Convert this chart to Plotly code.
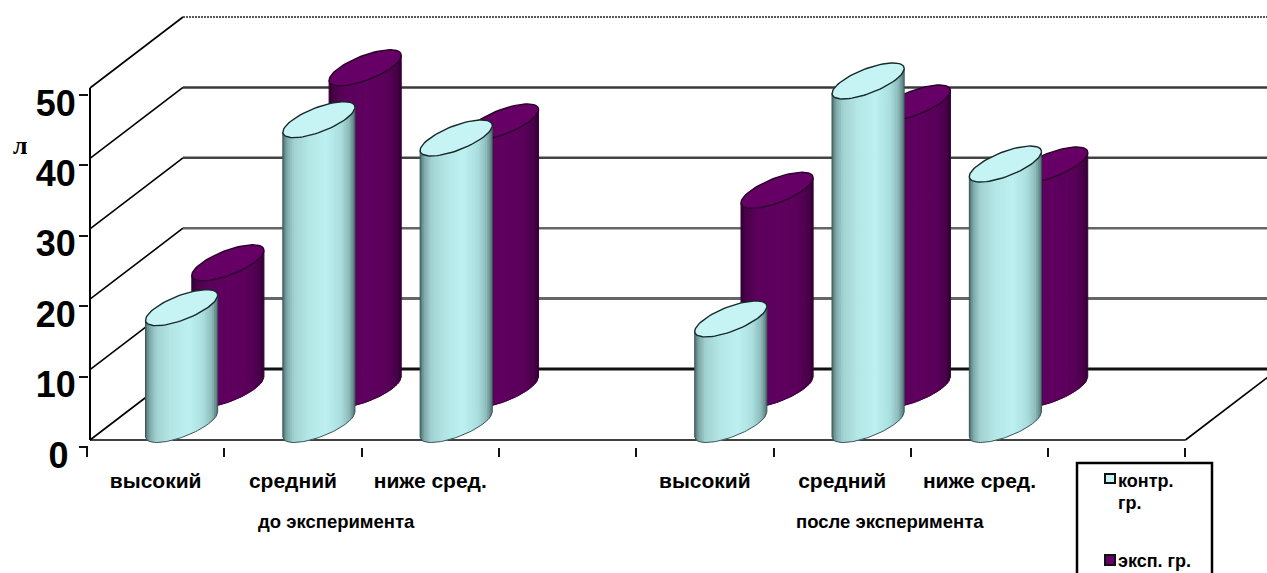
import numpy as np
import plotly.graph_objects as go

# ---------- data ----------
categories = ["высокий", "средний", "ниже сред.", "", "высокий", "средний", "ниже сред.", ""]
control_values = [16.6, 43.3, 40.7, None, 15.0, 48.8, 37.0, None]
experiment_values = [18.0, 45.7, 38.0, None, 28.3, 40.7, 31.9, None]
value_ticks = [0, 10, 20, 30, 40, 50]
value_tick_text = ["0\u2009", "10", "20", "30", "40", "50"]
group_labels = ["до эксперимента", "после эксперимента"]
series_names = ["контр.<br>гр.", "эксп. гр."]

# ---------- canvas geometry ----------
W, H = 1267, 573
X0_PX, Y0_PX = 87.0, 440.0
SLOT_PX, UNIT_PX = 137.3, 7.04
WALL_DX, WALL_DY = 93.0 / SLOT_PX, 71.0 / UNIT_PX
AXIS_X = 3.0 / SLOT_PX


def px_x(p):
    return (p - X0_PX) / SLOT_PX


xrange_main = [px_x(0), px_x(W)]
yrange_main = [(Y0_PX - H) / UNIT_PX, Y0_PX / UNIT_PX]
TICK_DROP = 7.0 / UNIT_PX

# cylinder section: x = R cos s, y = C sin(s + phi)
A_PX, B_PX, C_PX = 26.0, 25.0, 18.0
R_PX = float(np.hypot(A_PX, B_PX))
PHI = float(np.arctan2(B_PX, A_PX))
RX = R_PX / SLOT_PX
CY = C_PX / UNIT_PX

FRONT = dict(dx=0.689, dy=2.2)
BACK = dict(dx=1.026, dy=7.17)

STRIPS = 40
control_stops = [(0, "#4a6b6b"), (.05, "#7ba5a5"), (.15, "#a2d2d2"), (.35, "#b4e6e6"), (.6, "#bdf0f0"),
                 (.8, "#abdfdf"), (.92, "#8dbaba"), (1, "#527575")]
experiment_stops = [(0, "#2c002c"), (.05, "#470047"), (.2, "#5b005b"), (.5, "#600060"), (.8, "#5a005a"),
                    (.95, "#470047"), (1, "#2c002c")]


def rgb(h):
    return np.array([int(h[i:i + 2], 16) for i in (1, 3, 5)], float)


def ramp(stops, f):
    xs = [s[0] for s in stops]
    cols = np.array([rgb(s[1]) for s in stops])
    v = [np.interp(f, xs, cols[:, i]) for i in range(3)]
    return "rgb(%d,%d,%d)" % tuple(round(c) for c in v)


def lower_arc(u):
    """u in [-1,1] across the width: vertical offset of the near edge of the section."""
    s = 2 * np.pi - np.arccos(np.clip(u, -1, 1))
    return CY * np.sin(s + PHI)


def ellipse(n=72):
    s = np.linspace(0, 2 * np.pi, n)
    return RX * np.cos(s), CY * np.sin(s + PHI)


fig = go.Figure()

# vertical axis line of the left wall, drawn first so every cylinder stays above it
fig.add_trace(go.Scatter(x=[AXIS_X, AXIS_X], y=[value_ticks[0], value_ticks[-1]], mode="lines",
                         line=dict(color="#000000", width=2), hoverinfo="skip", showlegend=False,
                         cliponaxis=False))


def add_series(values, geo, stops, top_fill, top_line, edge, edge_w, name):
    idx = [i for i, v in enumerate(values) if v is not None]
    edges = np.linspace(-1, 1, STRIPS + 1)
    overlap = 0.8 / R_PX
    for k in range(STRIPS):
        u0, u1 = edges[k], min(edges[k + 1] + overlap, 1)
        uu = np.linspace(u0, u1, 3)
        xs, ys = [], []
        for i in idx:
            cx, base, top = i + geo["dx"], geo["dy"], geo["dy"] + values[i]
            px = list(cx + RX * uu)
            xs += px + px[::-1] + [None]
            ys += list(top + lower_arc(uu)) + list(base + lower_arc(uu[::-1])) + [None]
        fig.add_trace(go.Scatter(x=xs, y=ys, mode="lines", fill="toself", line=dict(width=0),
                                 fillcolor=ramp(stops, (k + .5) / STRIPS), hoverinfo="skip",
                                 showlegend=False))
    # silhouette of each cylinder
    uu = np.linspace(-1, 1, 40)
    xs, ys = [], []
    for i in idx:
        cx, base, top = i + geo["dx"], geo["dy"], geo["dy"] + values[i]
        xs += list(cx + RX * uu) + [None]
        ys += list(base + lower_arc(uu)) + [None]
        xs += [cx - RX, cx - RX, None, cx + RX, cx + RX, None]
        ys += [base + lower_arc(-1.0), top + lower_arc(-1.0), None,
               base + lower_arc(1.0), top + lower_arc(1.0), None]
    fig.add_trace(go.Scatter(x=xs, y=ys, mode="lines", line=dict(color=edge, width=edge_w),
                             hoverinfo="skip", showlegend=False))
    # top faces
    ex, ey = ellipse()
    xs, ys = [], []
    for i in idx:
        xs += list(i + geo["dx"] + ex) + [None]
        ys += list(geo["dy"] + values[i] + ey) + [None]
    fig.add_trace(go.Scatter(x=xs, y=ys, mode="lines", fill="toself", fillcolor=top_fill,
                             line=dict(color=top_line, width=1.4), name=name.replace("<br>", " "),
                             hoverinfo="skip", showlegend=False))


add_series(experiment_values, BACK, experiment_stops, "#660066", "#2a002a", "#3a003a", 1, series_names[1])
add_series(control_values, FRONT, control_stops, "#c6f4f4", "#16282a", "#3b5555", 1, series_names[0])

# dummy traces that bring the shifted tick axes into existence
fig.add_trace(go.Scatter(x=[None], y=[None], xaxis="x", yaxis="y2", showlegend=False, hoverinfo="skip"))
fig.add_trace(go.Scatter(x=[None], y=[None], xaxis="x2", yaxis="y", showlegend=False, hoverinfo="skip"))

# ---------- walls ----------
shapes = []
n_slots = len(categories)


def seg(x0, y0, x1, y1, color="#000000", width=1.5, dash="solid"):
    shapes.append(dict(type="line", xref="x", yref="y", x0=x0, y0=y0, x1=x1, y1=y1, layer="below",
                       line=dict(color=color, width=width, dash=dash)))


wall_styles = {0: ("#111111", 3), 10: ("#666666", 3), 20: ("#666666", 2.5), 30: ("#444444", 2.5),
               40: ("#3a3a3a", 2.5)}
for v in value_ticks:
    seg(AXIS_X, v, AXIS_X + WALL_DX, v + WALL_DY, width=1.6)
    bv = v + WALL_DY
    if v in wall_styles:
        c, w = wall_styles[v]
        seg(AXIS_X + WALL_DX, bv, xrange_main[1], bv, c, w)
    else:
        seg(AXIS_X + WALL_DX, bv, xrange_main[1], bv, "#222222", 1.5, "2px,1px")
seg(AXIS_X, 0, n_slots, 0, width=1.5)
seg(n_slots, 0, n_slots + WALL_DX, WALL_DY, width=1.6)

# ---------- legend box (open at the bottom of the page) ----------
def paper_x(p):
    return p / W


def paper_y(p):
    return 1 - p / H


shapes.append(dict(type="path", xref="paper", yref="paper",
                   path=f"M {paper_x(1077)} {paper_y(575)} L {paper_x(1077)} {paper_y(463)} "
                        f"L {paper_x(1212)} {paper_y(463)} L {paper_x(1212)} {paper_y(575)}",
                   line=dict(color="#000000", width=2.5)))
for (t, b), fc in zip([(474, 483), (555, 565)], ["#c6f4f4", "#660066"]):
    shapes.append(dict(type="rect", xref="paper", yref="paper", x0=paper_x(1105), x1=paper_x(1115),
                       y0=paper_y(b), y1=paper_y(t), fillcolor=fc,
                       line=dict(color="#111111", width=2)))

BASE_FONT = "Liberation Sans"


def note(x, xref, ypx, text, size, xanchor="center", family=BASE_FONT):
    return dict(x=x, y=paper_y(ypx), xref=xref, yref="paper", text=f"<b>{text}</b>", showarrow=False,
                xanchor=xanchor, yanchor="middle", font=dict(family=family, size=size, color="#000000"))


annotations = [
    note(px_x(336), "x", 521, group_labels[0], 18.5),
    note(px_x(889.5), "x", 521, group_labels[1], 18.5),
    note(paper_x(20), "paper", 145, "л", 26, family="Liberation Serif"),
    note(paper_x(1115.5), "paper", 481, "контр.", 18, "left"),
    note(paper_x(1115.5), "paper", 503, "гр.", 18, "left"),
    note(paper_x(1115.5), "paper", 561, "эксп. гр.", 18, "left"),
]

label_positions = [i + .5 for i, c in enumerate(categories) if c]
label_text = [f"<b>{c}</b>" for c in categories if c]

fig.update_layout(
    width=W, height=H, margin=dict(l=0, r=0, t=0, b=0, pad=0),
    paper_bgcolor="#ffffff", plot_bgcolor="#ffffff", showlegend=False,
    shapes=shapes, annotations=annotations,
    xaxis=dict(range=xrange_main, domain=[0, 1], anchor="free", position=paper_y(447), side="bottom",
               tickmode="array", tickvals=list(range(n_slots + 1)), ticktext=[""] * (n_slots + 1),
               ticks="outside", ticklen=9, tickwidth=2, tickcolor="#111111",
               showgrid=False, zeroline=False, showline=False),
    xaxis2=dict(range=xrange_main, domain=[0, 1], overlaying="x", anchor="free", position=paper_y(466),
                side="bottom", tickmode="array", tickvals=label_positions, ticktext=label_text, ticks="",
                ticklen=0, tickangle=0, tickfont=dict(family=BASE_FONT, size=21, color="#000000"),
                showgrid=False, zeroline=False, showline=False),
    yaxis=dict(range=yrange_main, domain=[0, 1], showticklabels=False, ticks="", anchor="free",
               position=0, showgrid=False, zeroline=False, showline=False),
    yaxis2=dict(range=[yrange_main[0] + TICK_DROP, yrange_main[1] + TICK_DROP], domain=[0, 1], overlaying="y",
                anchor="free", position=paper_x(88), side="left", tickmode="array", tickvals=value_ticks,
                ticktext=[f"<b>{t}</b>" for t in value_tick_text], ticks="outside", ticklen=9, tickwidth=2,
                tickcolor="#111111", ticklabelshift=8, ticklabelstandoff=-4,
                tickfont=dict(family=BASE_FONT, size=36, color="#000000"),
                showgrid=False, zeroline=False, showline=False),
)

fig.write_html("out.html", post_script="document.body.style.margin='0';document.body.style.overflow='hidden';",
               config=dict(displayModeBar=False))
